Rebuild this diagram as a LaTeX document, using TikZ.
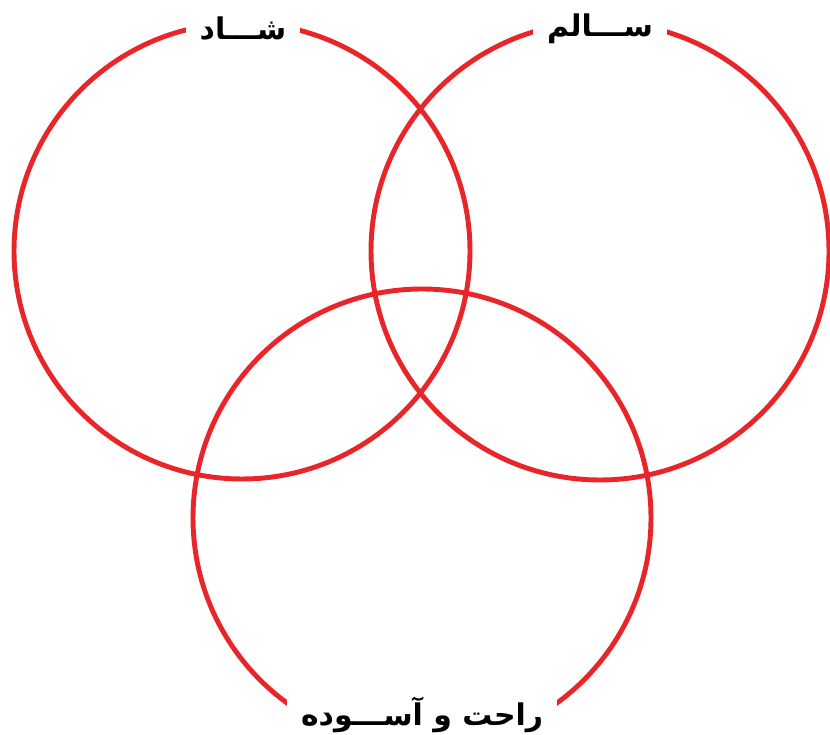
\documentclass[tikz,border=0pt]{standalone}
\usepackage{fontspec}
\usepackage{xcolor}
\usepackage{tikz}
\usetikzlibrary{positioning}
\TeXXeTstate=1
\newfontfamily\arabicfont[Script=Arabic]{DejaVu Sans}
\definecolor{ringred}{HTML}{E8262A}

\begin{document}
\begin{tikzpicture}[
  ring/.style={circle, draw=ringred, line width=2.8pt, minimum size=#1, inner sep=0pt},
  tag/.style={fill=white, inner xsep=8pt, inner ysep=2pt,
              font=\arabicfont\bfseries\fontsize{17}{20}\selectfont}
]
  \useasboundingbox (0,0) rectangle (16.6,14.7);
  \clip (0,0) rectangle (16.6,14.7);
  \node[ring=9.12cm] (shad)  at (4.84,9.68)  {};
  \node[ring=9.16cm] (salem) at (12.0,9.68)  {};
  \node[ring=9.16cm] (rahat) at (8.44,4.34)  {};

  \node[tag, minimum width=2.1cm] (tshad)  at (4.86,14.12) {\beginR شـــاد\endR};
  \node[tag, minimum width=2.6cm] (tsalem) at (12.0,14.12) {\beginR ســـالم\endR};
  \node[tag, minimum width=5.4cm] (trahat) at (8.44,0.40)  {\beginR راحت و آســـوده\endR};
\end{tikzpicture}
\end{document}
